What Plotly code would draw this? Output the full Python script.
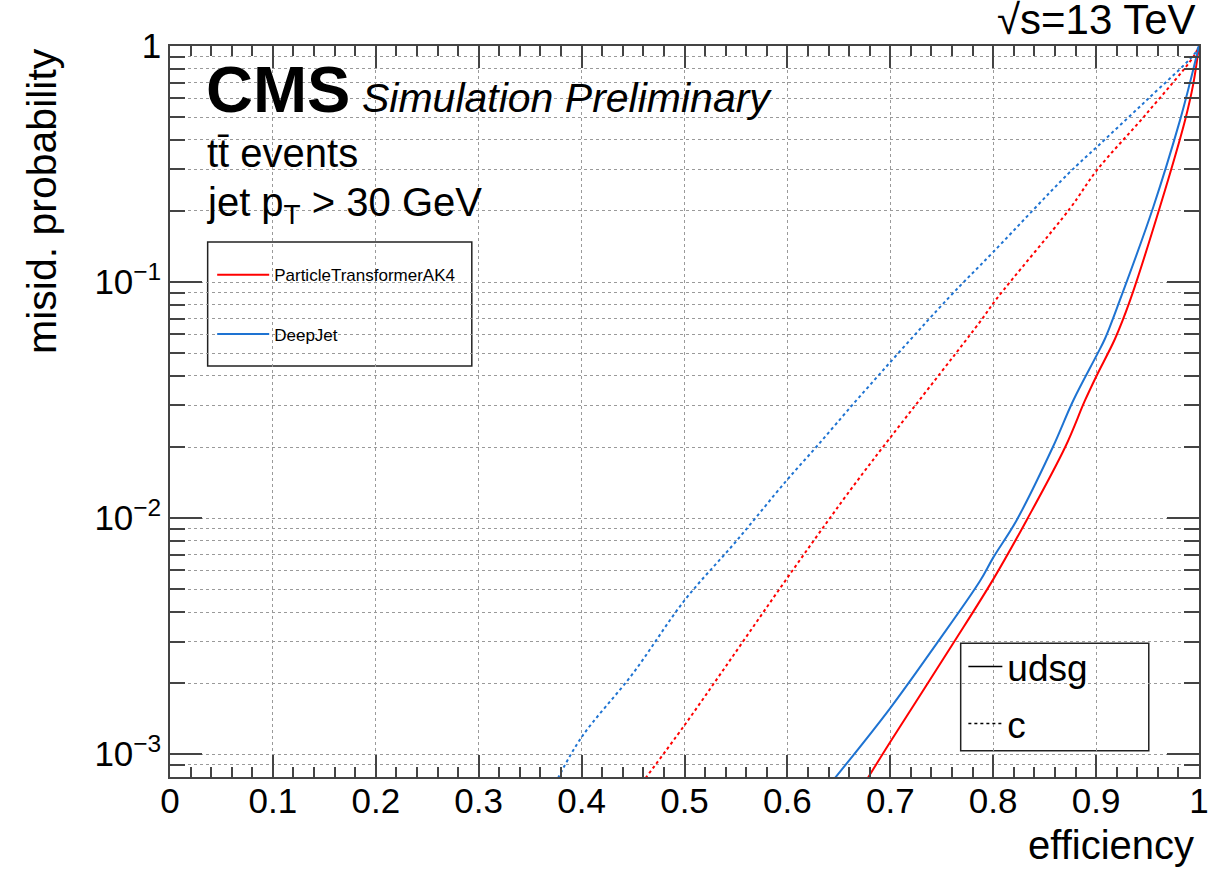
import numpy as np
import plotly.graph_objects as go

# ---------------- data ----------------
part_udsg_x = [0.678, 0.6996, 0.761, 0.800, 0.8325, 0.870, 0.8892, 0.9006, 0.9184, 0.933, 0.962, 0.9864, 0.9945, 1.0]
part_udsg_y = [7.9e-4, 1.12e-3, 2.94e-3, 5.5e-3, 9.8e-3, 0.020, 0.0315, 0.0402, 0.0575, 0.0836, 0.208, 0.484, 0.693, 1.0]

part_c_x = [0.462, 0.4997, 0.540, 0.5846, 0.628, 0.6705, 0.787, 0.8034, 0.8746, 0.9006, 0.949, 0.9945, 1.0]
part_c_y = [7.9e-4, 1.32e-3, 2.35e-3, 4.48e-3, 8.3e-3, 0.0149, 0.0677, 0.085, 0.205, 0.297, 0.517, 0.90, 1.0]

deepjet_udsg_x = [0.646, 0.6996, 0.745, 0.787, 0.800, 0.8228, 0.858, 0.8778, 0.9006, 0.9086, 0.923, 0.9556, 0.9815, 0.991, 0.999, 1.0]
deepjet_udsg_y = [7.9e-4, 1.56e-3, 2.94e-3, 5.4e-3, 6.8e-3, 9.8e-3, 0.020, 0.0315, 0.049, 0.0575, 0.0836, 0.208, 0.484, 0.693, 0.96, 1.0]

deepjet_c_x = [0.377, 0.400, 0.450, 0.500, 0.551, 0.599, 0.628, 0.670, 0.756, 0.800, 0.873, 0.9006, 0.949, 0.996, 1.0]
deepjet_c_y = [7.9e-4, 1.18e-3, 2.2e-3, 4.48e-3, 8.05e-3, 0.0144, 0.020, 0.0326, 0.0851, 0.134, 0.288, 0.373, 0.589, 0.93, 1.0]

x_tickvals = [0, 0.1, 0.2, 0.3, 0.4, 0.5, 0.6, 0.7, 0.8, 0.9, 1.0]
x_ticktext = ["0", "0.1", "0.2", "0.3", "0.4", "0.5", "0.6", "0.7", "0.8", "0.9", "1"]
y_tickvals = [1e-3, 1e-2, 1e-1, 1]
y_ticktext = ["10<sup>\u22123</sup>", "10<sup>\u22122</sup>", "10<sup>\u22121</sup>", "1"]

RED = "#ff0000"
BLUE = "#1e73d2"
FONT = "Liberation Sans, Arial, Helvetica, sans-serif"
AX = "#444444"
YMIN = 8e-4

y_minor = [k * 10.0 ** e for e in range(-4, 0) for k in range(2, 10)]

fig = go.Figure()

fig.add_trace(go.Scatter(x=part_udsg_x, y=part_udsg_y, mode="lines", name="ParticleTransformerAK4",
                         line=dict(color=RED, width=2, shape="spline", smoothing=1.0),
                         legend="legend", legendgroup="a"))
fig.add_trace(go.Scatter(x=part_c_x, y=part_c_y, mode="lines", showlegend=False,
                         line=dict(color=RED, width=2, dash="dot", shape="spline", smoothing=1.0)))
fig.add_trace(go.Scatter(x=deepjet_udsg_x, y=deepjet_udsg_y, mode="lines", name="DeepJet",
                         line=dict(color=BLUE, width=2, shape="spline", smoothing=1.0),
                         legend="legend", legendgroup="b"))
fig.add_trace(go.Scatter(x=deepjet_c_x, y=deepjet_c_y, mode="lines", showlegend=False,
                         line=dict(color=BLUE, width=2, dash="dot", shape="spline", smoothing=1.0)))
# style legend entries
fig.add_trace(go.Scatter(x=[None], y=[None], mode="lines", name="udsg",
                         line=dict(color="black", width=1.5), legend="legend2", legendgroup="u"))
fig.add_trace(go.Scatter(x=[None], y=[None], mode="lines", name="c",
                         line=dict(color="black", width=1.5, dash="dot"), legend="legend2", legendgroup="c"))

fig.update_xaxes(range=[0, 1], tickvals=x_tickvals, ticktext=x_ticktext, automargin=False,
                 ticks="inside", ticklen=22, tickwidth=1.5, tickcolor=AX,
                 showline=True, linecolor=AX, linewidth=1.5, mirror="allticks",
                 showgrid=True, gridcolor="#9a9a9a", griddash="dot", gridwidth=1,
                 zeroline=False, ticklabelstandoff=-8,
                 tickfont=dict(family=FONT, size=35, color="black"),
                 minor=dict(dtick=0.02, tick0=0, ticks="inside", ticklen=10, tickwidth=1.5,
                            tickcolor=AX, showgrid=False))
fig.update_yaxes(type="log", range=[np.log10(YMIN), 0], tickvals=y_tickvals, ticktext=y_ticktext,
                 automargin=False,
                 ticks="inside", ticklen=32, tickwidth=1.5, tickcolor=AX,
                 showline=True, linecolor=AX, linewidth=1.5, mirror="allticks",
                 showgrid=True, gridcolor="#9a9a9a", griddash="dot", gridwidth=1,
                 zeroline=False,
                 tickfont=dict(family=FONT, size=35, color="black"),
                 minor=dict(tickvals=y_minor, ticks="inside", ticklen=15, tickwidth=1.5,
                            tickcolor=AX, showgrid=True, gridcolor="#9a9a9a", griddash="dot", gridwidth=1))


def dom_to_y(f):
    lo = np.log10(YMIN)
    return 10 ** (lo + f * (0 - lo))


# legend boxes (white, above the grid, below the curves)
fig.add_shape(type="rect", xref="x", yref="y", x0=0.0366, x1=0.2933, y0=dom_to_y(0.5622), y1=dom_to_y(0.7319),
              line=dict(color="#222222", width=1.5), fillcolor="white", layer="below")
fig.add_shape(type="rect", xref="x", yref="y", x0=0.7684, x1=0.9512, y0=dom_to_y(0.036), y1=dom_to_y(0.1829),
              line=dict(color="#222222", width=1.5), fillcolor="white", layer="below")

fig.update_layout(
    width=1217, height=869,
    margin=dict(l=170, r=18, t=46, b=92, autoexpand=False),
    plot_bgcolor="white", paper_bgcolor="white",
    font=dict(family=FONT, color="black"),
    legend=dict(x=0.041, y=0.711, xanchor="left", yanchor="top", bgcolor="rgba(0,0,0,0)", borderwidth=0,
                font=dict(size=17, family=FONT, color="black"), tracegroupgap=34, itemwidth=52),
    legend2=dict(x=0.771, y=0.193, xanchor="left", yanchor="top", bgcolor="rgba(0,0,0,0)", borderwidth=0,
                 font=dict(size=37, family=FONT, color="black"), tracegroupgap=6, itemwidth=34),
)

ann = []
ann.append(dict(text="misid. probability", textangle=-90, xref="paper", yref="paper",
                x=-0.1244, y=1.0, xanchor="center", yanchor="top", showarrow=False,
                font=dict(size=41, family=FONT, color="black")))
ann.append(dict(text="efficiency", xref="paper", yref="paper", x=0.997, y=-0.1259,
                xanchor="right", yanchor="bottom", showarrow=False,
                font=dict(size=40, family=FONT, color="black")))
ann.append(dict(text="<b>CMS</b>", xref="paper", yref="paper", x=0.033, y=0.9405,
                xanchor="left", yanchor="middle", showarrow=False,
                font=dict(size=65, family=FONT, color="black")))
ann.append(dict(text="<i>Simulation Preliminary</i>", xref="paper", yref="paper", x=0.1846, y=0.9293,
                xanchor="left", yanchor="middle", showarrow=False,
                font=dict(size=41, family=FONT, color="black")))
ann.append(dict(text="tt\u0304 events", xref="paper", yref="paper", x=0.034, y=0.8536,
                xanchor="left", yanchor="middle", showarrow=False,
                font=dict(size=40, family=FONT, color="black")))
ann.append(dict(text="jet p<sub>T</sub> > 30 GeV", xref="paper", yref="paper", x=0.034, y=0.7825,
                xanchor="left", yanchor="middle", showarrow=False,
                font=dict(size=40, family=FONT, color="black")))
ann.append(dict(text="\u221as=13 TeV", xref="paper", yref="paper", x=0.999, y=1.036,
                xanchor="right", yanchor="middle", showarrow=False,
                font=dict(size=42, family=FONT, color="black")))
fig.update_layout(annotations=ann)

fig.write_html("out.html")
